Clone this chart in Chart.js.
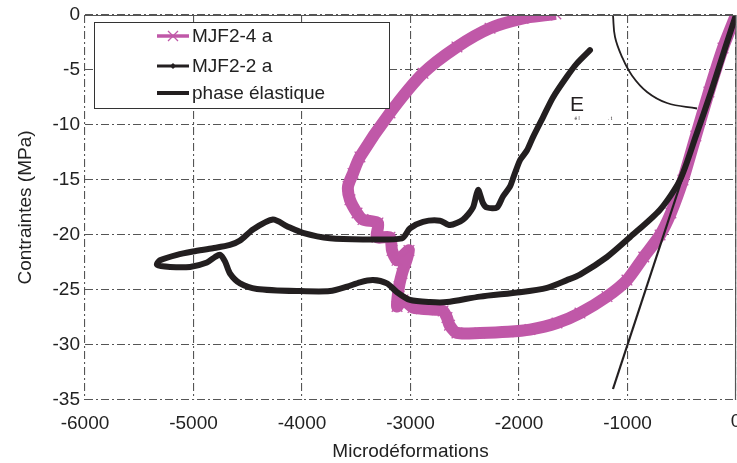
<!DOCTYPE html>
<html><head><meta charset="utf-8">
<script src="https://cdn.jsdelivr.net/npm/chart.js@4/dist/chart.umd.min.js"></script>
<style>html,body{margin:0;padding:0;background:#fff;}canvas{display:block;}</style>
</head><body>
<canvas id="c" width="737" height="463"></canvas>
<script>
// ---- data ----
const xTicks = [-6000, -5000, -4000, -3000, -2000, -1000, 0];
const yTicks = [0, -5, -10, -15, -20, -25, -30, -35];

const mjf24X = [0, -120, -250, -370, -489, -600, -700, -850, -1005, -1189, -1438, -1650, -1899, -2100, -2360, -2572, -2640, -2664, -2700, -2756, -2900, -2977, -3069, -3124, -3106, -3078, -3014, -3124, -3170, -3189, -3309, -3300, -3438, -3493, -3558, -3576, -3530, -3466, -3189, -2885, -2572, -2267, -1963, -1742, -1660];
const mjf24Y = [0, -3, -7, -11, -15, -18, -20, -22, -24.1, -25.6, -27.1, -28, -28.6, -28.8, -28.9, -28.9, -28.2, -27.5, -26.9, -26.8, -26.7, -26.6, -25.9, -26.5, -24.7, -23.5, -21.4, -22.3, -21.4, -20.2, -20.2, -18.9, -18.6, -18, -16.8, -15.6, -14.4, -12.9, -8.9, -5.3, -2.9, -1.2, -0.3, 0, 0.1];

const mjf22X = [0, -100, -230, -370, -516, -700, -977, -1189, -1438, -1558, -1742, -1991, -2360, -2664, -2820, -3005, -3124, -3217, -3346, -3466, -3585, -3742, -4018, -4415, -4571, -4664, -4710, -4756, -4802, -4876, -5032, -5216, -5336, -5309, -5152, -5005, -4821, -4664, -4571, -4452, -4268, -4139, -3991, -3742, -3438, -3078, -3005, -2885, -2728, -2636, -2516, -2424, -2378, -2332, -2295, -2203, -2148, -2083, -2060, -1991, -1926, -1871, -1779, -1687, -1558, -1466, -1346];
const mjf22Y = [0, -3, -7, -11, -15, -17.7, -20.2, -22, -23.6, -24.1, -24.8, -25.2, -25.6, -26.1, -26.1, -25.9, -25.2, -24.4, -24.1, -24.3, -24.7, -25.1, -25.1, -24.9, -24.4, -23.5, -22.4, -21.8, -22, -22.5, -22.9, -22.9, -22.7, -22.3, -21.8, -21.5, -21.2, -20.9, -20.5, -19.5, -18.6, -19.2, -19.8, -20.3, -20.4, -20.3, -19.4, -18.8, -18.7, -19.1, -18.6, -17.5, -15.9, -17.1, -17.5, -17.5, -16.5, -15.6, -15, -13.2, -12.3, -11.1, -9.3, -7.5, -5.6, -4.4, -3.2];

const elastX = [0, -1134];
const elastY = [0, -34];

const arcX = [-1134, -1115, -1051, -959, -820, -636, -359];
const arcY = [0, -2, -3.8, -5.5, -7, -8, -8.5];

const seriesNames = ['MJF2-4 a', 'MJF2-2 a', 'phase élastique'];
const annE = {x: -1465, y: -8.2, text: 'E'};

// ---- styles ----
const MAG = '#c058a8';
const BLK = '#231f20';
const GRID = '#555555';
const FONT = "'Liberation Sans', Arial, Helvetica, sans-serif";
const TXT = '#222';

const pts = (xs, ys) => xs.map((x, i) => ({x: x, y: ys[i]}));

const legendPlugin = {
  id: 'boxLegend',
  afterDatasetsDraw(chart) {
    const ctx = chart.ctx;
    const ca = chart.chartArea;
    const xs = chart.scales.x, ys = chart.scales.y;
    ctx.save();
    // solid top/right frame edges
    ctx.strokeStyle = GRID; ctx.lineWidth = 1.2; ctx.setLineDash([]);
    ctx.beginPath();
    ctx.moveTo(ca.left, ca.top + 0.5); ctx.lineTo(ca.right, ca.top + 0.5);
    ctx.lineTo(ca.right - 0.5, ca.bottom);
    ctx.stroke();

    // last x tick label (partly outside the canvas, as in the reference)
    ctx.fillStyle = TXT;
    ctx.font = '19px ' + FONT;
    ctx.textAlign = 'center'; ctx.textBaseline = 'top';
    ctx.fillText(String(xTicks[xTicks.length - 1]), xs.getPixelForValue(xTicks[xTicks.length - 1]), xs.top + 12);

    // E annotation
    ctx.fillStyle = BLK;
    ctx.font = '21px ' + FONT;
    ctx.textAlign = 'center'; ctx.textBaseline = 'middle';
    ctx.fillText(annE.text, xs.getPixelForValue(annE.x), ys.getPixelForValue(annE.y));
    ctx.font = '5px ' + FONT;
    ctx.fillText('é l', xs.getPixelForValue(annE.x), ys.getPixelForValue(annE.y) + 13);
    ctx.fillText('. t', xs.getPixelForValue(annE.x) + 33, ys.getPixelForValue(annE.y) + 13);

    // legend box
    const bx = 94.5, by = 22.5, bw = 295, bh = 86;
    ctx.fillStyle = '#fff';
    ctx.fillRect(bx, by, bw, bh);
    ctx.strokeStyle = '#333'; ctx.lineWidth = 1;
    ctx.strokeRect(bx, by, bw, bh);
    const rows = [36, 66, 93];
    const x0 = 157, x1 = 189;
    ctx.lineCap = 'butt';
    ctx.strokeStyle = MAG; ctx.lineWidth = 3.5;
    ctx.beginPath(); ctx.moveTo(x0, rows[0]); ctx.lineTo(x1, rows[0]); ctx.stroke();
    ctx.lineWidth = 1.3;
    ctx.beginPath();
    ctx.moveTo(173 - 5, rows[0] - 5); ctx.lineTo(173 + 5, rows[0] + 5);
    ctx.moveTo(173 - 5, rows[0] + 5); ctx.lineTo(173 + 5, rows[0] - 5);
    ctx.stroke();
    ctx.strokeStyle = BLK; ctx.lineWidth = 3;
    ctx.beginPath(); ctx.moveTo(x0, rows[1]); ctx.lineTo(x1, rows[1]); ctx.stroke();
    ctx.fillStyle = BLK;
    ctx.beginPath(); ctx.moveTo(173, rows[1] - 3); ctx.lineTo(176, rows[1]); ctx.lineTo(173, rows[1] + 3); ctx.lineTo(170, rows[1]); ctx.closePath(); ctx.fill();
    ctx.lineWidth = 4;
    ctx.beginPath(); ctx.moveTo(x0, rows[2]); ctx.lineTo(x1, rows[2]); ctx.stroke();
    ctx.fillStyle = TXT;
    ctx.font = '19px ' + FONT;
    ctx.textAlign = 'left'; ctx.textBaseline = 'middle';
    seriesNames.forEach((n, i) => ctx.fillText(n, 192, rows[i] + 1));
    ctx.restore();
  }
};

new Chart(document.getElementById('c'), {
  type: 'scatter',
  data: {
    datasets: [
      {label: seriesNames[2], data: pts(elastX, elastY), showLine: true, borderColor: BLK, borderWidth: 2.2, pointRadius: 0, order: 0},
      {label: seriesNames[1], data: pts(mjf22X, mjf22Y), showLine: true, borderColor: BLK, backgroundColor: BLK, borderWidth: 6, tension: 0.25,
       borderJoinStyle: 'round', borderCapStyle: 'round', pointStyle: 'rectRot', pointRadius: 2.5, pointBorderWidth: 0, order: 1},
      {label: seriesNames[0], data: pts(mjf24X, mjf24Y), showLine: true, borderColor: MAG, backgroundColor: MAG, borderWidth: 12, tension: 0.25,
       borderJoinStyle: 'round', borderCapStyle: 'butt', pointStyle: 'crossRot', pointRadius: 7.5, pointBorderWidth: 1.3, pointBorderColor: MAG, order: 2},
      {label: 'arc', data: pts(arcX, arcY), showLine: true, borderColor: BLK, borderWidth: 1.8, pointRadius: 0, tension: 0.4, order: 3}
    ]
  },
  options: {
    responsive: false,
    animation: false,
    devicePixelRatio: 1,
    layout: {autoPadding: false, padding: {top: 15, right: 1, left: 0, bottom: 0}},
    plugins: {legend: {display: false}, tooltip: {enabled: false}},
    scales: {
      x: {
        type: 'linear', min: -6000, max: 0, position: 'bottom',
        afterBuildTicks: s => { s.ticks = xTicks.map(v => ({value: v})); },
        ticks: {font: {family: FONT, size: 19}, color: TXT, padding: 0, maxRotation: 0, autoSkip: false,
                callback: v => (v === xTicks[xTicks.length - 1] ? '' : String(v))},
        grid: {color: GRID, lineWidth: 1.1, drawTicks: true, tickLength: 12, tickColor: 'rgba(0,0,0,0)'},
        border: {display: false, dash: [8, 3, 2, 3]},
        title: {display: true, text: 'Microdéformations', font: {family: FONT, size: 19}, color: TXT, padding: {top: 0, bottom: 0}},
        afterFit: s => { s.height = 63; s.paddingLeft = 0; s.paddingRight = 0; }
      },
      y: {
        type: 'linear', min: -35, max: 0,
        afterBuildTicks: s => { s.ticks = yTicks.map(v => ({value: v})); },
        ticks: {font: {family: FONT, size: 19}, color: TXT, padding: 0, callback: v => String(v)},
        grid: {color: GRID, lineWidth: 1.1, drawTicks: true, tickLength: 5, tickColor: 'rgba(0,0,0,0)'},
        border: {display: false, dash: [8, 3, 2, 3]},
        title: {display: true, text: 'Contraintes (MPa)', font: {family: FONT, size: 19}, color: TXT, padding: {top: 14, bottom: 0}},
        afterFit: s => { s.width = 85; s.paddingTop = 0; s.paddingBottom = 0; }
      }
    }
  },
  plugins: [legendPlugin]
});
</script>
</body></html>
